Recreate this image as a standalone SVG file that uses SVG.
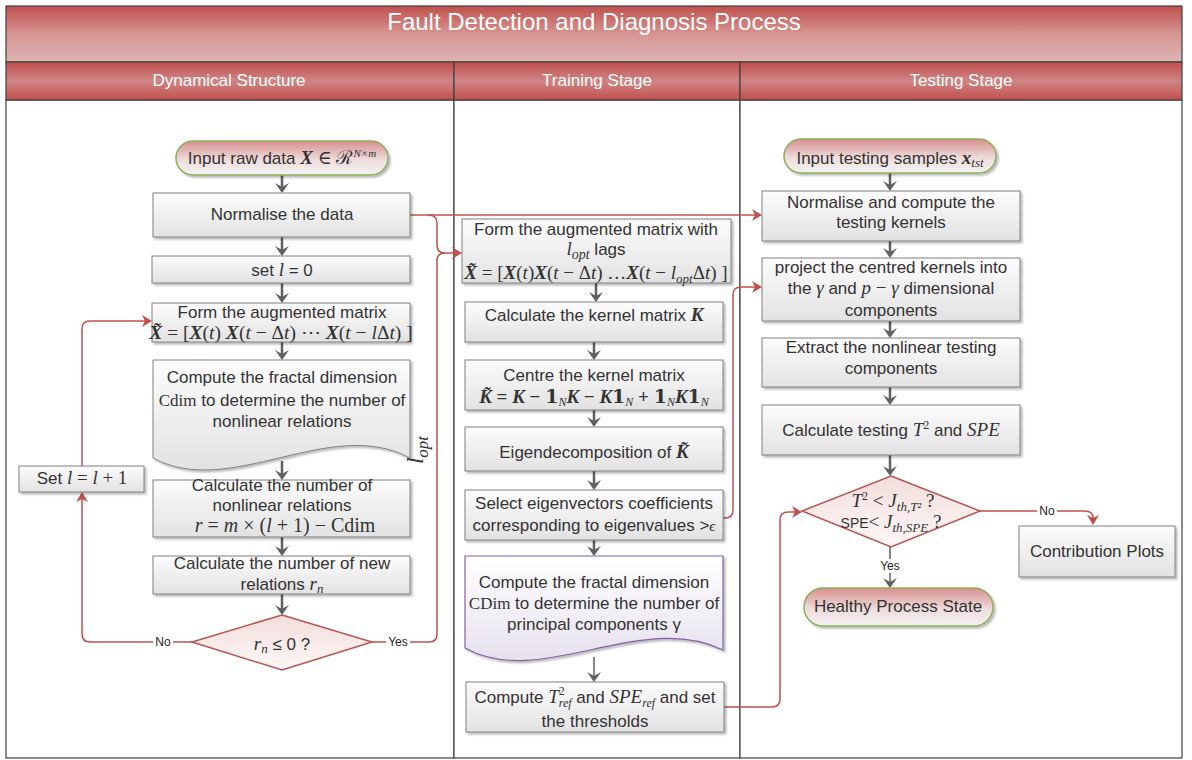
<svg xmlns="http://www.w3.org/2000/svg" width="1192" height="760" viewBox="0 0 1192 760">
<defs>
<linearGradient id="titleG" x1="0" y1="0" x2="0" y2="1"><stop offset="0" stop-color="#c0504d"/><stop offset="0.5" stop-color="#d69593"/><stop offset="1" stop-color="#ddb3b2"/></linearGradient>
<linearGradient id="headG" x1="0" y1="0" x2="0" y2="1"><stop offset="0" stop-color="#c0504d"/><stop offset="0.5" stop-color="#cf8584"/><stop offset="1" stop-color="#c0504d"/></linearGradient>
<linearGradient id="boxG" x1="0" y1="0" x2="0" y2="1"><stop offset="0" stop-color="#fcfcfc"/><stop offset="1" stop-color="#e2e2e2"/></linearGradient>
<linearGradient id="termG" x1="0" y1="0" x2="0" y2="1"><stop offset="0" stop-color="#d78f8e"/><stop offset="0.55" stop-color="#eedcdc"/><stop offset="1" stop-color="#f2f2f2"/></linearGradient>
<linearGradient id="diaG" x1="0" y1="0" x2="0" y2="1"><stop offset="0" stop-color="#f3dddc"/><stop offset="1" stop-color="#fdf7f7"/></linearGradient>
<linearGradient id="docG" x1="0" y1="0" x2="0" y2="1"><stop offset="0" stop-color="#ffffff"/><stop offset="1" stop-color="#e6e1ee"/></linearGradient>
<filter id="sh" x="-5%" y="-10%" width="115%" height="130%"><feDropShadow dx="2" dy="2" stdDeviation="1.2" flood-color="#000" flood-opacity="0.28"/></filter>
<marker id="ga" markerUnits="userSpaceOnUse" viewBox="0 0 10 14" markerWidth="10" markerHeight="14" refX="4" refY="7" orient="auto"><path d="M0,0 L10,7 L0,14 L4,7 z" fill="#606060"/></marker>
<marker id="ra" markerUnits="userSpaceOnUse" viewBox="0 0 10 12" markerWidth="10" markerHeight="12" refX="3" refY="6" orient="auto"><path d="M0,0 L10,6 L0,12 L3,6 z" fill="#c0504d"/></marker>
<style>
.t{font-family:"Liberation Sans",Arial,sans-serif;font-size:17px;fill:#333;text-anchor:middle}
.h{font-family:"Liberation Sans",Arial,sans-serif;font-size:17px;fill:#fff;text-anchor:middle}
.s{font-family:"Liberation Serif","DejaVu Serif",serif}
.m{font-family:"Liberation Serif","DejaVu Serif",serif;font-style:italic}
.mb{font-family:"Liberation Serif","DejaVu Serif",serif;font-style:italic;font-weight:bold}
.b{font-family:"Liberation Serif","DejaVu Serif",serif;font-weight:bold}
.f{font-size:19px}
.lab{font-family:"Liberation Sans",Arial,sans-serif;font-size:12px;fill:#222;text-anchor:middle}
.box{fill:url(#boxG);stroke:#808080;stroke-width:1;filter:url(#sh)}
.term{fill:url(#termG);stroke:#8fae5a;stroke-width:1.5;filter:url(#sh)}
.dia{fill:url(#diaG);stroke:#b85450;stroke-width:1.5}
.doc{fill:url(#boxG);stroke:#808080;stroke-width:1;filter:url(#sh)}
.docp{fill:url(#docG);stroke:#8064a2;stroke-width:1.2;filter:url(#sh)}
.ga{fill:none;stroke:#606060;stroke-width:2.5;marker-end:url(#ga)}
.ra{fill:none;stroke:#c0504d;stroke-width:1.5}
.ram{marker-end:url(#ra)}
.lane{fill:#fff;stroke:#404040;stroke-width:1.2}
</style>
</defs>

<g id="frame">
<rect class="lane" x="6" y="100" width="448" height="658"/>
<rect class="lane" x="454" y="100" width="286" height="658"/>
<rect class="lane" x="740" y="100" width="442" height="658"/>
<rect x="6" y="6" width="1176" height="56" fill="url(#titleG)" stroke="#404040" stroke-width="1.2"/>
<text x="594" y="30" class="h" style="font-size:24px">Fault Detection and Diagnosis Process</text>
<rect x="6" y="62" width="448" height="38" fill="url(#headG)" stroke="#404040" stroke-width="1.2"/>
<rect x="454" y="62" width="286" height="38" fill="url(#headG)" stroke="#404040" stroke-width="1.2"/>
<rect x="740" y="62" width="442" height="38" fill="url(#headG)" stroke="#404040" stroke-width="1.2"/>
<text x="229" y="86" class="h">Dynamical Structure</text>
<text x="597" y="86" class="h">Training Stage</text>
<text x="961" y="86" class="h">Testing Stage</text>
</g>

<g id="connectors">
<path class="ga" d="M282,175 V187"/>
<path class="ga" d="M282,237 V250"/>
<path class="ga" d="M282,283 V297"/>
<path class="ga" d="M282,342 V354"/>
<path class="ga" d="M282,461 V474"/>
<path class="ga" d="M282,537 V550"/>
<path class="ga" d="M282,594 V609"/>
<path class="ga" d="M596,283 V296"/>
<path class="ga" d="M594,342 V354"/>
<path class="ga" d="M594,410 V421"/>
<path class="ga" d="M594,471 V484"/>
<path class="ga" d="M594,540 V550"/>
<path class="ga" d="M594,657 V676" style="stroke-width:1.5"/>
<path class="ga" d="M890,173 V185"/>
<path class="ga" d="M890,241 V252"/>
<path class="ga" d="M890,321 V332"/>
<path class="ga" d="M890,387 V399"/>
<path class="ga" d="M890,455 V470"/>
<path class="ga" d="M890,547 V582" style="stroke-width:1.5"/>
<path class="ra ram" d="M410,215 H755"/>
<path class="ra" d="M428,215 Q437,215 437,223 V245 Q437,253 445,253"/>
<path class="ra ram" d="M372,642 H429 Q437,642 437,634 V261 Q437,253 445,253 H455"/>
<path class="ra ram" d="M192,642 H90 Q82,642 82,634 V499"/>
<path class="ra ram" d="M82,466 V329 Q82,321 90,321 H145"/>
<path class="ra ram" d="M723,518 H725 Q733,518 733,510 V295 Q733,287 741,287 H755"/>
<path class="ra ram" d="M724,707 H772 Q780,707 780,699 V520 Q780,512 788,512 H795"/>
<path class="ra ram" d="M980,511 H1085 Q1093,511 1093,518"/>
<rect x="153" y="635" width="20" height="14" fill="#fff"/>
<text x="163" y="646" class="lab">No</text>
<rect x="386" y="635" width="24" height="14" fill="#fff"/>
<text x="398" y="646" class="lab">Yes</text>
<rect x="1037" y="504" width="20" height="14" fill="#fff"/>
<text x="1047" y="515" class="lab">No</text>
<rect x="878" y="559" width="24" height="14" fill="#fff"/>
<text x="890" y="570" class="lab">Yes</text>
<text class="m" transform="translate(423,450) rotate(-90)" style="font-size:23px;fill:#333;text-anchor:middle">l<tspan dy="5" style="font-size:17px">opt</tspan></text>
</g>

<g id="n-input-raw">
<rect class="term" x="176" y="141" width="212" height="34" rx="17"/>
<text class="t" x="282" y="164">Input raw data <tspan class="mb f">X</tspan><tspan class="s f"> ∈ ℛ</tspan><tspan class="m" dy="-7" style="font-size:11px">N×m</tspan></text>
</g>
<g id="n-normalise">
<rect class="box" x="153" y="193" width="257" height="44"/>
<text class="t" x="282" y="220">Normalise the data</text>
</g>
<g id="n-set-l0">
<rect class="box" x="152" y="256" width="258" height="27"/>
<text class="t" x="282" y="276">set <tspan class="m f">l</tspan> = 0</text>
</g>
<g id="n-form-aug">
<rect class="box" x="152" y="303" width="258" height="39"/>
<text class="t" x="282" y="318">Form the augmented matrix</text>
<text class="t s" x="281" y="339" style="font-size:19.5px"><tspan class="mb">X̃</tspan> = [<tspan class="mb">X</tspan>(<tspan class="m">t</tspan>) <tspan class="mb">X</tspan>(<tspan class="m">t</tspan> − Δ<tspan class="m">t</tspan>) ⋯ <tspan class="mb">X</tspan>(<tspan class="m">t</tspan> − <tspan class="m">l</tspan>Δ<tspan class="m">t</tspan>) ]</text>
</g>
<g id="n-fractal-left">
<path class="doc" d="M153,360 H410 V458 C330,415 230,500 153,458 Z"/>
<text class="t" x="282" y="383">Compute the fractal dimension</text>
<text class="t" x="282" y="406"><tspan class="s">Cdim</tspan> to determine the number of</text>
<text class="t" x="282" y="427">nonlinear relations</text>
</g>
<g id="n-set-l1">
<rect class="box" x="19" y="466" width="125" height="26"/>
<text class="t" x="82" y="484">Set <tspan class="m f">l</tspan><tspan class="s f"> = </tspan><tspan class="m f">l</tspan><tspan class="s f"> + 1</tspan></text>
</g>
<g id="n-calc-nonlin">
<rect class="box" x="153" y="480" width="257" height="57"/>
<text class="t" x="282" y="491">Calculate the number of</text>
<text class="t" x="282" y="511">nonlinear relations</text>
<text class="t s" x="285" y="532" style="font-size:20px"><tspan class="m">r</tspan> =  <tspan class="m">m</tspan> × (<tspan class="m">l</tspan> + 1) −  Cdim</text>
</g>
<g id="n-calc-new">
<rect class="box" x="153" y="556" width="257" height="38"/>
<text class="t" x="282" y="569">Calculate the number of new</text>
<text class="t" x="282" y="590">relations <tspan class="m f">r</tspan><tspan class="m" dy="3" style="font-size:13px">n</tspan></text>
</g>
<g id="n-dec-rn">
<path class="dia" d="M282,615 L372,642 L282,670 L192,642 Z"/>
<text class="t" x="282" y="650"><tspan class="m f">r</tspan><tspan class="m" dy="3" style="font-size:13px">n</tspan><tspan dy="-3"> ≤ 0 ?</tspan></text>
</g>

<g id="n-form-lopt">
<rect class="box" x="462" y="219" width="269" height="64"/>
<text class="t" x="596" y="235">Form the augmented matrix with</text>
<text class="t" x="596" y="255"><tspan class="m f">l</tspan><tspan class="m" dy="4" style="font-size:14px">opt</tspan><tspan dy="-4"> lags</tspan></text>
<text class="t s" x="596" y="279" style="font-size:19px"><tspan class="mb">X̃</tspan> = [<tspan class="mb">X</tspan>(<tspan class="m">t</tspan>)<tspan class="mb">X</tspan>(<tspan class="m">t</tspan> − Δ<tspan class="m">t</tspan>) …<tspan class="mb">X</tspan>(<tspan class="m">t</tspan> − <tspan class="m">l</tspan><tspan class="m" dy="4" style="font-size:13px">opt</tspan><tspan dy="-4">Δ</tspan><tspan class="m">t</tspan>) ]</text>
</g>
<g id="n-kernel">
<rect class="box" x="465" y="302" width="258" height="40"/>
<text class="t" x="594" y="321">Calculate the kernel matrix <tspan class="mb f">K</tspan></text>
</g>
<g id="n-centre">
<rect class="box" x="465" y="360" width="258" height="50"/>
<text class="t" x="594" y="381">Centre the kernel matrix</text>
<text class="t b" x="594" y="403" style="font-size:19px"><tspan class="mb">K̃</tspan> = <tspan class="mb">K</tspan> − 𝟏<tspan class="m" dy="3" style="font-size:12px;font-weight:normal">N</tspan><tspan class="mb" dy="-3">K</tspan> − <tspan class="mb">K</tspan>𝟏<tspan class="m" dy="3" style="font-size:12px;font-weight:normal">N</tspan><tspan dy="-3"> + 𝟏</tspan><tspan class="m" dy="3" style="font-size:12px;font-weight:normal">N</tspan><tspan class="mb" dy="-3">K</tspan>𝟏<tspan class="m" dy="3" style="font-size:12px;font-weight:normal">N</tspan></text>
</g>
<g id="n-eigen">
<rect class="box" x="465" y="427" width="258" height="44"/>
<text class="t" x="594" y="458">Eigendecomposition of <tspan class="mb f">K̃</tspan></text>
</g>
<g id="n-select">
<rect class="box" x="465" y="490" width="258" height="50"/>
<text class="t" x="594" y="509">Select eigenvectors coefficients</text>
<text class="t" x="594" y="531">corresponding to eigenvalues &gt;<tspan class="m" style="font-size:15px">ϵ</tspan></text>
</g>
<g id="n-fractal-mid">
<path class="docp" d="M465,556 H723 V650 C640,610 540,690 465,648 Z"/>
<text class="t" x="594" y="588">Compute the fractal dimension</text>
<text class="t" x="594" y="609"><tspan class="s">CDim</tspan> to determine the number of</text>
<text class="t" x="594" y="630">principal components γ</text>
</g>
<g id="n-thresholds">
<rect class="box" x="466" y="682" width="258" height="50"/>
<text class="t" x="595" y="703">Compute <tspan class="m f">T</tspan><tspan class="s" dy="-8" style="font-size:12px">2</tspan><tspan class="m" dx="-6" dy="12" style="font-size:12px">ref</tspan><tspan dy="-4"> and </tspan><tspan class="m f">SPE</tspan><tspan class="m" dy="4" style="font-size:12px">ref</tspan><tspan dy="-4"> and set</tspan></text>
<text class="t" x="595" y="727">the thresholds</text>
</g>

<g id="n-input-test">
<rect class="term" x="784" y="139" width="212" height="34" rx="17"/>
<text class="t" x="890" y="164">Input testing samples <tspan class="mb f">x</tspan><tspan class="m" dy="3" style="font-size:13px">tst</tspan></text>
</g>
<g id="n-norm-test">
<rect class="box" x="762" y="191" width="258" height="50"/>
<text class="t" x="891" y="208">Normalise and compute the</text>
<text class="t" x="891" y="228">testing kernels</text>
</g>
<g id="n-project">
<rect class="box" x="762" y="258" width="258" height="63"/>
<text class="t" x="891" y="273">project the centred kernels into</text>
<text class="t" x="891" y="294">the <tspan class="m f">γ</tspan> and <tspan class="m f">p</tspan><tspan class="s f"> − </tspan><tspan class="m f">γ</tspan> dimensional</text>
<text class="t" x="891" y="316">components</text>
</g>
<g id="n-extract">
<rect class="box" x="762" y="338" width="258" height="49"/>
<text class="t" x="891" y="353">Extract the nonlinear testing</text>
<text class="t" x="891" y="374">components</text>
</g>
<g id="n-calc-test">
<rect class="box" x="762" y="405" width="258" height="50"/>
<text class="t" x="891" y="436">Calculate testing <tspan class="m f">T</tspan><tspan class="s" dy="-7" style="font-size:12px">2</tspan><tspan dy="7"> and </tspan><tspan class="m f">SPE</tspan></text>
</g>
<g id="n-dec-test">
<path class="dia" d="M891,476 L980,511 L891,547 L802,511 Z"/>
<text class="t" x="893" y="507"><tspan class="m f">T</tspan><tspan class="s" dy="-7" style="font-size:12px">2</tspan><tspan class="s f" dy="7"> &lt; </tspan><tspan class="m f">J</tspan><tspan class="m" dy="4" style="font-size:13px">th,T²</tspan><tspan class="s f" dy="-4"> ?</tspan></text>
<text class="t" x="891" y="528"><tspan style="font-size:14px">SPE</tspan><tspan class="s f">&lt; </tspan><tspan class="m f">J</tspan><tspan class="m" dy="4" style="font-size:13px">th,SPE</tspan><tspan class="s f" dy="-4"> ?</tspan></text>
</g>
<g id="n-contrib">
<rect class="box" x="1019" y="526" width="156" height="51"/>
<text class="t" x="1097" y="557">Contribution Plots</text>
</g>
<g id="n-healthy">
<rect class="term" x="804" y="588" width="189" height="38" rx="19"/>
<text class="t" x="898" y="612">Healthy Process State</text>
</g>
</svg>
